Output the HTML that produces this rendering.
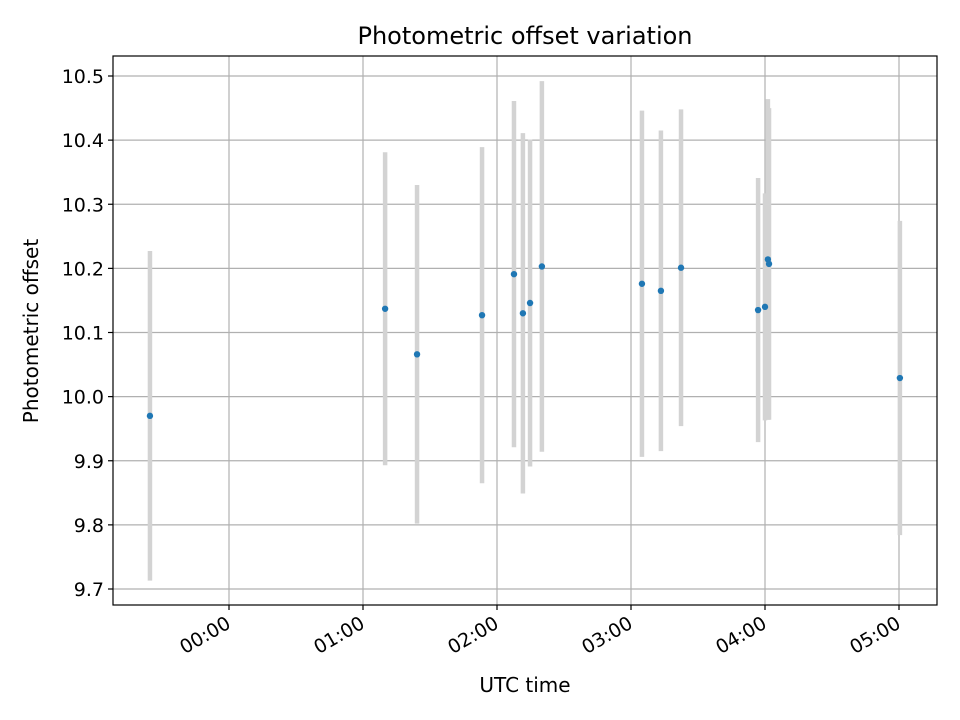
<!DOCTYPE html>
<html><head><meta charset="utf-8"><style>
html,body{margin:0;padding:0;background:#fff;}
svg{display:block;font-family:"DejaVu Sans","Liberation Sans",sans-serif;}
</style></head><body>
<svg id="chart" width="960" height="720" xmlns="http://www.w3.org/2000/svg">
<rect x="0" y="0" width="960" height="720" fill="#fff"/>
<g id="grid"></g>
<g id="bars"></g>
<g id="points"></g>
<rect x="113" y="56" width="824" height="549" fill="none" stroke="#000" stroke-width="1.2"/>
<g id="ticks"></g>
<text x="525" y="44" font-size="24" text-anchor="middle">Photometric offset variation</text>
<text x="525" y="692" font-size="20" text-anchor="middle">UTC time</text>
<text x="38" y="331" font-size="20" text-anchor="middle" transform="rotate(-90 38 331)">Photometric offset</text>
</svg>
<script>
// time in minutes since 00:00 UTC
const times = [-35.4, 69.9, 84.2, 113.3, 127.6, 131.6, 134.8, 140.1, 184.9, 193.4, 202.4, 236.9, 240.0, 241.3, 241.8, 300.4];
const offsets = [9.970, 10.137, 10.066, 10.127, 10.191, 10.130, 10.146, 10.203, 10.176, 10.165, 10.201, 10.135, 10.140, 10.214, 10.207, 10.029];
const errors = [0.257, 0.244, 0.264, 0.262, 0.270, 0.281, 0.255, 0.289, 0.270, 0.250, 0.247, 0.206, 0.177, 0.250, 0.243, 0.245];
const yTicks = [9.7, 9.8, 9.9, 10.0, 10.1, 10.2, 10.3, 10.4, 10.5];
const xTickMinutes = [0, 60, 120, 180, 240, 300];
const xTickLabels = ["00:00", "01:00", "02:00", "03:00", "04:00", "05:00"];

const NS = "http://www.w3.org/2000/svg";
const L = 113, R = 937, T = 56, B = 605;
function xs(m) { return 229 + m * (134 / 60); }
function ys(v) { return 76 + (10.5 - v) * 641.25; }
function mk(tag, attrs, parent) {
  const e = document.createElementNS(NS, tag);
  for (const k in attrs) e.setAttribute(k, attrs[k]);
  parent.appendChild(e);
  return e;
}
const grid = document.getElementById('grid');
const ticks = document.getElementById('ticks');
yTicks.forEach(v => {
  const y = ys(v);
  const g = mk('line', {x1: L, x2: R, y1: y, y2: y, stroke: '#b0b0b0', 'stroke-width': 1.2}, grid);
  
  
  const t = mk('line', {x1: L - 5, x2: L, y1: y, y2: y, stroke: '#000', 'stroke-width': 1.2}, ticks);
  
  
  const lb = mk('text', {x: L - 9, y: y + 7, 'font-size': 19, 'text-anchor': 'end'}, ticks);
  lb.textContent = v.toFixed(1);
  
  
});
xTickMinutes.forEach((m, i) => {
  const x = xs(m);
  const g = mk('line', {x1: x, x2: x, y1: T, y2: B, stroke: '#b0b0b0', 'stroke-width': 1.2}, grid);
  
  
  const t = mk('line', {x1: x, x2: x, y1: B, y2: B + 5, stroke: '#000', 'stroke-width': 1.2}, ticks);
  
  
  const ax = x + 3, ay = B + 22;
  const lb = mk('text', {x: ax, y: ay, 'font-size': 19, 'text-anchor': 'end', transform: 'rotate(-30 ' + ax + ' ' + ay + ')'}, ticks);
  lb.textContent = xTickLabels[i];
  
  
});
const bars = document.getElementById('bars');
const pts = document.getElementById('points');
times.forEach((m, i) => {
  const x = xs(m);
  const b = mk('line', {x1: x, x2: x, y1: ys(offsets[i] + errors[i]), y2: ys(offsets[i] - errors[i]), stroke: '#d3d3d3', 'stroke-width': 4.5}, bars);
  
  
});
times.forEach((m, i) => {
  const p = mk('circle', {cx: xs(m), cy: ys(offsets[i]), r: 3.2, fill: '#1f77b4'}, pts);
  
  
});
</script>
</body></html>
